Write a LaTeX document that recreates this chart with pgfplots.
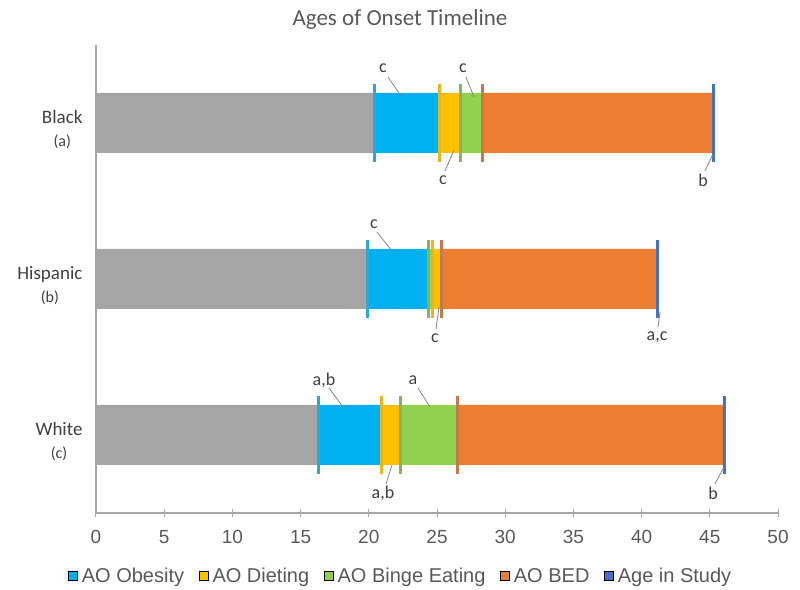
\documentclass[border=0pt]{standalone}
\usepackage{fontspec}
\setmainfont{Carlito}
\newfontfamily\arialf{Liberation Sans}
\usepackage{pgfplots}
\pgfplotsset{compat=1.18}
\definecolor{cgrey}{HTML}{A5A5A5}
\definecolor{cblue}{HTML}{00B0F0}
\definecolor{cyellow}{HTML}{FFC000}
\definecolor{cgreen}{HTML}{92D050}
\definecolor{corange}{HTML}{ED7D31}
\definecolor{cage}{HTML}{4472C4}
\definecolor{mblue}{HTML}{2EA6D8}
\definecolor{myellow}{HTML}{EBB61A}
\definecolor{mgreen}{HTML}{88B25C}
\definecolor{morange}{HTML}{C47A4C}
\definecolor{axisgrey}{HTML}{A6A6A6}
\definecolor{txt}{HTML}{595959}
\definecolor{dtxt}{HTML}{404040}
\newcommand{\ann}[7]{%
  \draw[line width=0.8pt, color=axisgrey!80!black] (#4,589-#5) -- (#6,589-#7);
  \node[font=\fontsize{18}{18}\selectfont, text=dtxt, inner sep=0pt] at (#1,589-#2) {#3};}
\pgfplotsset{geom/.style={at={(96pt,76pt)}, anchor=south west,
  scale only axis, width=682pt, height=468pt,
  xmin=0, xmax=50, ymin=-0.5, ymax=2.5, clip=false}}
\begin{document}
\begin{tikzpicture}[x=1pt,y=1pt]
\useasboundingbox (0,0) rectangle (800,589);
\node[font=\fontsize{23}{23}\selectfont, text=txt] at (400,589-19) {Ages of Onset Timeline};
\begin{axis}[geom,
  xbar stacked, bar width=60pt,
  axis x line*=bottom, axis y line*=left,
  axis line style={axisgrey, line width=1.2pt},
  xtick={0,5,...,50}, ytick={0,1,2},
  tick align=center, major tick length=8pt,
  xtick style={axisgrey, line width=1pt},
  ytick style={draw=none},
  /pgf/number format/assume math mode=true,
  xticklabel style={font=\arialf\fontsize{19}{19}\selectfont, text=txt, yshift=-10pt},
  yticklabel style={align=center, font=\fontsize{19}{23}\selectfont, text=dtxt, xshift=-6pt, yshift=-7pt},
  yticklabels={{White\\{\fontsize{16}{16}\selectfont (c)}},{Hispanic\\{\fontsize{16}{16}\selectfont (b)}},{Black\\{\fontsize{16}{16}\selectfont (a)}}},
  legend columns=5,
  legend style={at={(0.447,-0.135)}, anchor=center, draw=none, fill=none,
    font=\arialf\fontsize{20}{20}\selectfont, text=txt,
    /tikz/every odd column/.append style={column sep=2pt},
    /tikz/every even column/.append style={column sep=13pt}},
  legend image code/.code={\path[#1] (0pt,-4.5pt) rectangle (9pt,4.5pt);},
]
% stacked segment lengths (years): Black y=2, Hispanic y=1, White y=0
\addplot[fill=cgrey, draw=none, forget plot] coordinates {(20.45,2) (19.9,1) (16.3,0)};
\addplot[fill=cblue, draw=none, forget plot] coordinates {(4.75,2) (4.5,1) (4.6,0)};
\addplot[fill=cgreen, draw=none, forget plot] coordinates {(0,2) (0.25,1) (0,0)};
\addplot[fill=cyellow, draw=none, forget plot] coordinates {(1.55,2) (0.65,1) (1.4,0)};
\addplot[fill=cgreen, draw=none, forget plot] coordinates {(1.6,2) (0,1) (4.2,0)};
\addplot[fill=corange, draw=none, forget plot] coordinates {(16.9,2) (15.9,1) (19.55,0)};
\addlegendimage{fill=cblue}\addlegendentry{AO Obesity}
\addlegendimage{fill=cyellow}\addlegendentry{AO Dieting}
\addlegendimage{fill=cgreen}\addlegendentry{AO Binge Eating}
\addlegendimage{fill=corange}\addlegendentry{AO BED}
\addlegendimage{fill=cage}\addlegendentry{Age in Study}
\end{axis}
\begin{axis}[geom, hide axis]
% onset markers (ages)
\addplot[only marks, mark=|, mark size=39pt, mark options={line width=3pt, draw=mblue}] coordinates {(20.45,2) (19.9,1) (16.3,0)};
\addplot[only marks, mark=|, mark size=39pt, mark options={line width=3pt, draw=myellow}] coordinates {(25.2,2) (24.65,1) (20.9,0)};
\addplot[only marks, mark=|, mark size=39pt, mark options={line width=3pt, draw=mgreen}] coordinates {(26.75,2) (24.4,1) (22.3,0)};
\addplot[only marks, mark=|, mark size=39pt, mark options={line width=3pt, draw=morange}] coordinates {(28.35,2) (25.3,1) (26.5,0)};
\addplot[only marks, mark=|, mark size=39pt, mark options={line width=3pt, draw=cage}] coordinates {(45.25,2) (41.2,1) (46.05,0)};
\end{axis}
% annotations
\ann{383}{68}{c}{388}{77}{401}{96}
\ann{463}{68}{c}{466}{77}{474}{97}
\ann{443}{180}{c}{445}{171}{454}{150}
\ann{703}{180}{b}{705}{171}{713}{154}
\ann{374}{224}{c}{377}{232}{392}{251}
\ann{435}{338}{c}{436}{329}{439}{307}
\ann{657}{337}{a,c}{658}{327}{660}{312}
\ann{324}{380}{a,b}{329}{388}{343}{407}
\ann{413}{380}{a}{418}{388}{430}{407}
\ann{383}{493}{a,b}{386}{484}{392}{465}
\ann{713}{493}{b}{715}{484}{724}{467}
\end{tikzpicture}
\end{document}
